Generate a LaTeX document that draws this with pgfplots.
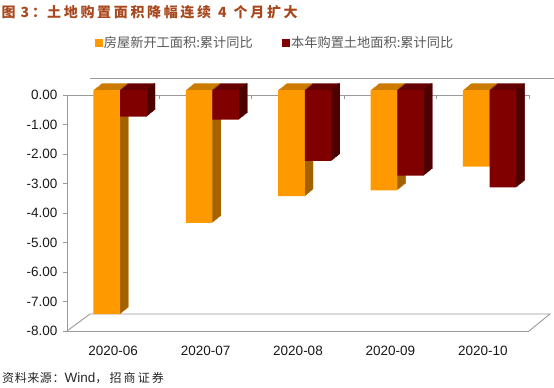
\documentclass[border=0pt]{standalone}
\usepackage{pgfplots}
\pgfplotsset{compat=1.18}
\usepackage{pgfplotstable}
\usepackage{fontspec}
\setmainfont{Liberation Sans}
\newfontfamily\cjk{Noto Sans CJK SC}
\definecolor{oF}{HTML}{FF9900}
\definecolor{oT}{HTML}{CC7A00}
\definecolor{oS}{HTML}{A36200}
\definecolor{rF}{HTML}{800000}
\definecolor{rT}{HTML}{660000}
\definecolor{rS}{HTML}{4D0000}
\definecolor{gl}{HTML}{9A9A9A}
\definecolor{tc}{HTML}{A8481E}
\definecolor{lg}{HTML}{595959}
\pgfplotstableread{
x a b
0 -7.6 -0.9
1 -4.5 -1.0
2 -3.6 -2.4
3 -3.4 -2.9
4 -2.6 -3.3
}\data
\begin{document}
\begin{tikzpicture}
\useasboundingbox (0,0) rectangle (554pt,-388pt);
\node[anchor=west, inner sep=0pt, text=tc, font=\cjk\bfseries\fontsize{14}{16}\selectfont] at (1.5pt,-12pt) {\addfontfeatures{LetterSpace=19}图\hspace{5pt}3\hspace{3pt}：\hspace{1pt}土地购置面积降幅连续\hspace{7pt}4\hspace{7pt}个月扩大};
\node[anchor=west, inner sep=0pt, text=black!85] at (2pt,-378pt) {{\cjk\fontsize{12}{14}\selectfont\addfontfeatures{LetterSpace=5}资料来源：}{\fontsize{13.5}{15}\selectfont Wind}{\cjk\fontsize{12}{14}\selectfont\addfontfeatures{LetterSpace=18}，招商证券}};
\begin{axis}[
  at={(67pt,-331pt)}, anchor=south west,
  scale only axis, width=462pt, height=236pt,
  xmin=-0.5, xmax=4.5, ymin=-8, ymax=0,
  clip=false,
  axis lines=left,
  axis line style={-, draw=gl, line width=0.9pt},
  xtick={0,...,4}, xticklabels={2020-06,2020-07,2020-08,2020-09,2020-10},
  xtick style={draw=none},
  ytick={-8,-7,...,0},
  ytick style={draw=gl, line width=0.9pt},
  tick align=outside, major tick length=4pt,
  /pgf/number format/assume math mode=true,
  yticklabel={\pgfmathprintnumber[fixed,fixed zerofill,precision=2]{\tick}},
  ticklabel style={font=\fontsize{13.5}{15}\selectfont, text=black!90},
  xticklabel style={yshift=-7.5pt},
  yticklabel style={xshift=-2pt},
  legend style={at={(0.45,1.22)}, anchor=center, draw=none, fill=none,
    font=\cjk\fontsize{13.2}{15}\selectfont, text=lg,
    /tikz/every even column/.append style={column sep=27pt}},
  legend columns=2,
]
\draw[gl, line width=0.9pt] (axis cs:-0.5,-8) -- ([shift={(23pt,17pt)}]axis cs:-0.5,-8) -- ([shift={(21pt,17pt)}]axis cs:4.5,-8) -- (axis cs:4.5,-8);
\draw[gl, line width=0.9pt] ([shift={(23pt,17pt)}]axis cs:-0.5,0) -- ([shift={(25pt,17pt)}]axis cs:4.5,0);
\draw[gl, line width=0.9pt] (axis cs:-0.5,0) -- (axis cs:4.5,0);
\pgfplotsinvokeforeach{0.5,1.5,2.5,3.5,4.5}{
  \draw[gl, line width=0.9pt] (axis cs:#1,0) -- ([yshift=-4pt]axis cs:#1,0);
}
\addlegendimage{legend image code/.code={\fill[oF] (0pt,-3.5pt) rectangle (7pt,3.5pt);}}
\addlegendentry{房屋新开工面积:累计同比}
\addlegendimage{legend image code/.code={\fill[rF] (0pt,-3.5pt) rectangle (7pt,3.5pt);}}
\addlegendentry{本年购置土地面积:累计同比}
% orange series
\pgfplotsinvokeforeach{1,...,8}{
  \addplot[ybar, bar width=26.7pt, bar shift=-6.5pt, fill=oT, draw=none, forget plot,
    xshift=#1*1.04pt, yshift=5pt+#1*0.84pt] table[x=x,y=a]{\data};
}
\pgfplotsinvokeforeach{1,...,8}{
  \addplot[ybar, bar width=1.4pt, bar shift=6.15pt, fill=oS, draw=none, forget plot,
    xshift=#1*1.04pt, yshift=5pt+#1*0.84pt] table[x=x,y=a]{\data};
}
\addplot[ybar, bar width=26.7pt, bar shift=-6.5pt, fill=oF, draw=none, forget plot,
    yshift=5pt] table[x=x,y=a]{\data};
% dark red series
\pgfplotsinvokeforeach{1,...,8}{
  \addplot[ybar, bar width=26.7pt, bar shift=20.2pt, fill=rT, draw=none, forget plot,
    xshift=#1*1.04pt, yshift=5pt+#1*0.84pt] table[x=x,y=b]{\data};
}
\pgfplotsinvokeforeach{1,...,8}{
  \addplot[ybar, bar width=1.4pt, bar shift=32.85pt, fill=rS, draw=none, forget plot,
    xshift=#1*1.04pt, yshift=5pt+#1*0.84pt] table[x=x,y=b]{\data};
}
\addplot[ybar, bar width=26.7pt, bar shift=20.2pt, fill=rF, draw=none, forget plot,
    yshift=5pt] table[x=x,y=b]{\data};
\end{axis}
\end{tikzpicture}
\end{document}
